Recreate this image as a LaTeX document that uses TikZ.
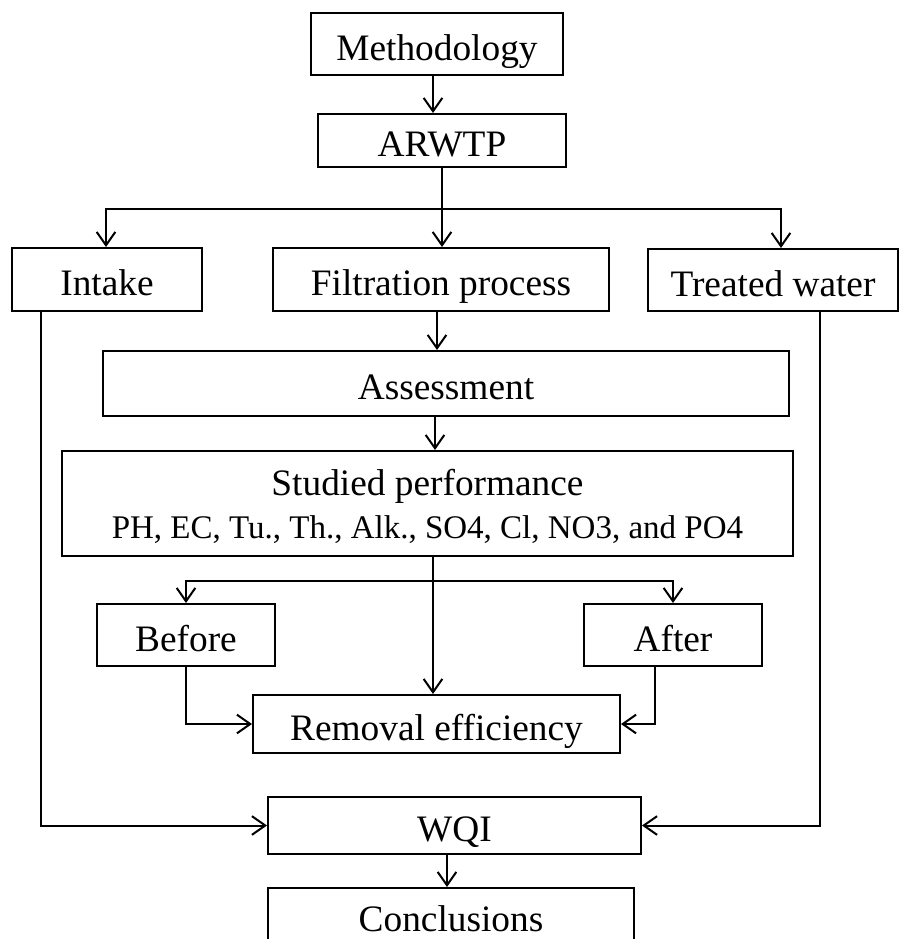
\documentclass[tikz,border=0pt]{standalone}
\usepackage{fontspec}
\setmainfont{Liberation Serif}
\usetikzlibrary{arrows.meta,calc}
\tikzset{
  bx/.style 2 args={draw, line width=1.5pt, inner sep=0pt, align=center,
    minimum width=#1*0.75pt, minimum height=#2*0.75pt,
    font=\fontsize{28}{30}\selectfont},
  tx/.style={text height=24pt, text depth=0pt},
  ln/.style={line width=1.5pt},
  arr/.style={line width=1.5pt, -{Straight Barb[length=10pt,width=14pt,line width=1.5pt]}}
}
\begin{document}
\begin{tikzpicture}[x=0.75pt,y=-0.75pt]
\clip (0,0) rectangle (901,939);
\fill[white] (0,0) rectangle (901,939);
\node[bx={252}{62},tx] (meth) at (437,44) {Methodology};
\node[bx={248}{53},tx] (arwtp) at (442,140.5) {ARWTP};
\node[bx={190}{63},tx] (intake) at (107,279.5) {Intake};
\node[bx={336}{63},tx] (filt) at (441,279.5) {Filtration process};
\node[bx={250}{62},tx] (treated) at (773,280) {Treated water};
\node[bx={686}{65},tx] (assess) at (446,383.5) {Assessment};
\node[bx={731}{105}] (studied) at (427.5,503.5) {\rule{0pt}{24pt}Studied performance\\[2pt]{\fontsize{24.75}{28}\selectfont PH, EC, Tu., Th., Alk., SO4, Cl, NO3, and PO4}};
\node[bx={178}{62},tx] (before) at (186,635) {Before};
\node[bx={178}{62},tx] (after) at (673,635) {After};
\node[bx={367}{58},tx] (removal) at (436.5,724) {Removal efficiency};
\node[bx={373}{57},tx] (wqi) at (454.5,825.5) {WQI};
\node[bx={366}{60},text height=20pt,text depth=0pt] (concl) at (451,918) {Conclusions};

% Methodology -> ARWTP
\draw[arr] ($(meth.south)+(-4,0)$) -- ($(arwtp.north)+(-9,0)$);
% ARWTP split
\coordinate (sp) at ($(arwtp.south)+(0,41)$);
\draw[ln] (arwtp.south) -- (sp);
\draw[arr] (sp) -| ($(intake.north)+(-1,0)$);
\draw[arr] (sp) -- (filt.north -| sp);
\draw[arr] (sp) -| ($(treated.north)+(8,0)$);
% Filtration -> Assessment
\draw[arr] ($(filt.south)+(-4,0)$) -- ($(assess.north)+(-9,0)$);
% Assessment -> Studied
\draw[arr] ($(assess.south)+(-11,0)$) -- ($(studied.north)+(7.5,0)$);
% Studied split
\coordinate (sp2) at ($(studied.south)+(5.5,24)$);
\draw[ln] (studied.south -| sp2) -- (sp2);
\draw[arr] (sp2) -| (before.north);
\draw[arr] (sp2) -| (after.north);
\draw[arr] (sp2) -- (removal.north -| sp2);
% Before/After -> Removal
\draw[arr] (before.south) |- (removal.west);
\draw[arr] ($(after.south)+(-18,0)$) |- (removal.east);
% Intake / Treated -> WQI
\draw[arr] ($(intake.south west)+(30,0)$) |- (wqi.west);
\draw[arr] ($(treated.south)+(47,0)$) |- (wqi.east);
% WQI -> Conclusions
\draw[arr] ($(wqi.south)+(-7.5,0)$) -- ($(concl.north)+(-4,0)$);
\end{tikzpicture}
\end{document}
